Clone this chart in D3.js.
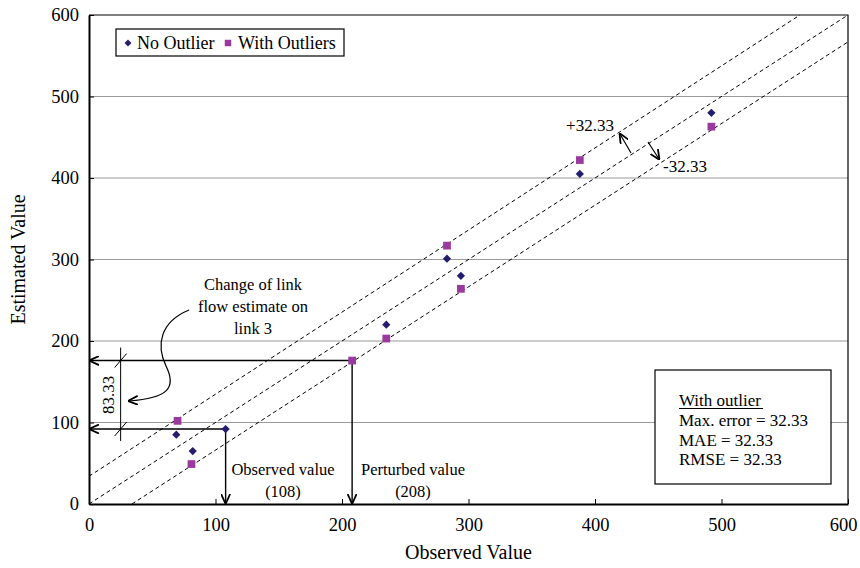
<!DOCTYPE html>
<html>
<head>
<meta charset="utf-8">
<script src="https://cdn.jsdelivr.net/npm/d3@7"></script>
<style>
  body { margin: 0; background: #fff; }
  text { font-family: "Liberation Serif", "Times New Roman", serif; fill: #000; }
</style>
</head>
<body>
<svg id="chart" width="860" height="568"></svg>
<script>
// data
const noOutlier = [
  [108, 92], [69, 85], [82, 65], [235, 220],
  [283, 301], [294, 280], [388, 405], [492, 480]
];
const withOutliers = [
  [70, 102], [81, 49], [208, 176], [235, 203],
  [283, 317], [294, 264], [388, 422], [492, 463]
];
// dashed reference lines: upper bound, identity, lower bound
const upperLine = [[0, 34], [562, 600]];
const identityLine = [[0, 0], [600, 600]];
const lowerLine = [[34, 0], [600, 567]];
const xTicks = [0, 100, 200, 300, 400, 500, 600];
const yTicks = [0, 100, 200, 300, 400, 500, 600];
const observedPoint = [108, 92];
const perturbedPoint = [208, 176];
const statsLines = ["Max. error = 32.33", "MAE = 32.33", "RMSE = 32.33"];

const svg = d3.select("#chart");
const margin = { top: 15, right: 12, bottom: 64, left: 89 };
const width = 860, height = 568;

const x = d3.scaleLinear().domain([0, 600]).range([margin.left, width - margin.right]);
const y = d3.scaleLinear().domain([0, 600]).range([height - margin.bottom, margin.top]);

const defs = svg.append("defs");
defs.append("marker")
  .attr("id", "arrow")
  .attr("viewBox", "0 0 10 10")
  .attr("refX", 9).attr("refY", 5)
  .attr("markerWidth", 10).attr("markerHeight", 10)
  .attr("markerUnits", "userSpaceOnUse")
  .attr("orient", "auto-start-reverse")
  .append("path")
  .attr("d", "M0,0.5 L10,5 L0,9.5")
  .attr("fill", "none")
  .attr("stroke", "#000")
  .attr("stroke-width", 1.8);

// grid
svg.append("g")
  .selectAll("line")
  .data(yTicks.filter(d => d > 0 && d < 600))
  .join("line")
  .attr("x1", x(0)).attr("x2", x(600))
  .attr("y1", d => y(d)).attr("y2", d => y(d))
  .attr("stroke", "#9a9a9a")
  .attr("stroke-width", 1.2);

// axes
const xAxis = svg.append("g")
  .attr("transform", `translate(0,${y(0)})`)
  .call(d3.axisBottom(x).tickValues(xTicks).tickSizeInner(-5).tickSizeOuter(0).tickPadding(14));
const yAxis = svg.append("g")
  .attr("transform", `translate(${x(0)},0)`)
  .call(d3.axisLeft(y).tickValues(yTicks).tickSizeInner(-5).tickSizeOuter(0).tickPadding(10));
[xAxis, yAxis].forEach(g => {
  g.select(".domain").attr("stroke", "#000").attr("stroke-width", 2);
  g.selectAll(".tick line").attr("stroke", "#000");
  g.selectAll(".tick text")
    .style("font-family", '"Liberation Serif", serif')
    .style("font-size", "18.5px")
    .attr("fill", "#000");
});
// keep the last x label inside the window
xAxis.selectAll(".tick text").filter(d => d === 600).attr("dx", -5);

// top and right frame
svg.append("path")
  .attr("d", `M${x(0)},${y(600)} H${x(600)} V${y(0)}`)
  .attr("fill", "none")
  .attr("stroke", "#000")
  .attr("stroke-width", 1.2);

// axis titles
svg.append("text")
  .attr("x", (x(0) + x(600)) / 2)
  .attr("y", 559)
  .attr("text-anchor", "middle")
  .style("font-size", "20px")
  .text("Observed Value");
svg.append("text")
  .attr("transform", `translate(25,${(y(0) + y(600)) / 2}) rotate(-90)`)
  .attr("text-anchor", "middle")
  .style("font-size", "20px")
  .text("Estimated Value");

// dashed lines
const line = d3.line().x(d => x(d[0])).y(d => y(d[1]));
svg.append("g")
  .selectAll("path")
  .data([upperLine, identityLine, lowerLine])
  .join("path")
  .attr("d", line)
  .attr("fill", "none")
  .attr("stroke", "#000")
  .attr("stroke-width", 1)
  .attr("stroke-dasharray", "4,3");

// annotation arrows for link 3
const ann = svg.append("g").attr("stroke", "#000").attr("stroke-width", 1.4).attr("fill", "none");
[observedPoint, perturbedPoint].forEach(p => {
  ann.append("line")
    .attr("x1", x(p[0])).attr("y1", y(p[1]))
    .attr("x2", x(0) + 1).attr("y2", y(p[1]))
    .attr("marker-end", "url(#arrow)");
  ann.append("line")
    .attr("x1", x(p[0])).attr("y1", y(p[1]))
    .attr("x2", x(p[0])).attr("y2", y(0) - 1)
    .attr("marker-end", "url(#arrow)");
});

// dimension line 83.33
const dimX = x(25);
ann.append("line")
  .attr("x1", dimX).attr("x2", dimX)
  .attr("y1", y(perturbedPoint[1]) - 13).attr("y2", y(observedPoint[1]) + 12)
  .attr("stroke-width", 1);
[perturbedPoint, observedPoint].forEach(p => {
  ann.append("line")
    .attr("x1", dimX - 6).attr("y1", y(p[1]) + 7)
    .attr("x2", dimX + 6).attr("y2", y(p[1]) - 7)
    .attr("stroke-width", 1);
});
svg.append("text")
  .attr("transform", `translate(${dimX - 7},${(y(perturbedPoint[1]) + y(observedPoint[1])) / 2}) rotate(-90)`)
  .attr("text-anchor", "middle")
  .style("font-size", "17px")
  .text("83.33");

// curved callout arrow
ann.append("path")
  .attr("d", "M189,310 C160,322 156,345 166,366 C177,388 168,398 129,401")
  .attr("stroke-width", 1.2)
  .attr("marker-end", "url(#arrow)");

// callout texts
const callout = svg.append("g").style("font-size", "16.5px").attr("text-anchor", "middle");
["Change of link", "flow estimate on", "link 3"].forEach((t, i) => {
  callout.append("text").attr("x", 253).attr("y", 290 + i * 22).text(t);
});
[["Observed value", "(108)", 283], ["Perturbed value", "(208)", 413]].forEach(([a, b, cx]) => {
  callout.append("text").attr("x", cx).attr("y", 475).text(a);
  callout.append("text").attr("x", cx).attr("y", 497).text(b);
});

// +/- 32.33 markers
ann.append("line")
  .attr("x1", 631).attr("y1", 153).attr("x2", 620).attr("y2", 134)
  .attr("stroke-width", 1.2)
  .attr("marker-end", "url(#arrow)");
ann.append("line")
  .attr("x1", 648).attr("y1", 142).attr("x2", 659).attr("y2", 159)
  .attr("stroke-width", 1.2)
  .attr("marker-end", "url(#arrow)");
callout.append("text").attr("x", 590).attr("y", 131).style("font-size", "17px").text("+32.33");
callout.append("text").attr("x", 685).attr("y", 172).style("font-size", "17px").text("-32.33");

// points
const diamond = d3.symbol().type(d3.symbolSquare).size(34);
const square = d3.symbol().type(d3.symbolSquare).size(60);
svg.append("g")
  .selectAll("path")
  .data(withOutliers)
  .join("path")
  .attr("d", square)
  .attr("transform", d => `translate(${x(d[0])},${y(d[1])})`)
  .attr("fill", "#9b3a9e");
svg.append("g")
  .selectAll("path")
  .data(noOutlier)
  .join("path")
  .attr("d", diamond)
  .attr("transform", d => `translate(${x(d[0])},${y(d[1])}) rotate(45)`)
  .attr("fill", "#231d6e");

// legend
const legend = svg.append("g");
legend.append("rect")
  .attr("x", 116).attr("y", 29).attr("width", 228).attr("height", 27)
  .attr("fill", "#fff").attr("stroke", "#000").attr("stroke-width", 1.2);
legend.append("path").attr("d", d3.symbol().type(d3.symbolSquare).size(24))
  .attr("transform", "translate(128,43) rotate(45)").attr("fill", "#231d6e");
legend.append("text").attr("x", 137).attr("y", 49).style("font-size", "18px").text("No Outlier");
legend.append("path").attr("d", d3.symbol().type(d3.symbolSquare).size(42))
  .attr("transform", "translate(228,43)").attr("fill", "#9b3a9e");
legend.append("text").attr("x", 238).attr("y", 49).style("font-size", "18px").text("With Outliers");

// stats box
const stats = svg.append("g");
stats.append("rect")
  .attr("x", 655).attr("y", 370).attr("width", 176).attr("height", 114)
  .attr("fill", "#fff").attr("stroke", "#000").attr("stroke-width", 1.2);
stats.append("text").attr("x", 679).attr("y", 406).style("font-size", "17px").text("With outlier");
stats.append("line").attr("x1", 679).attr("x2", 763).attr("y1", 408.5).attr("y2", 408.5)
  .attr("stroke", "#000").attr("stroke-width", 1);
stats.selectAll("text.s")
  .data(statsLines)
  .join("text")
  .attr("class", "s")
  .attr("x", 679)
  .attr("y", (d, i) => 426 + i * 19.5)
  .style("font-size", "17px")
  .text(d => d);
</script>
</body>
</html>
